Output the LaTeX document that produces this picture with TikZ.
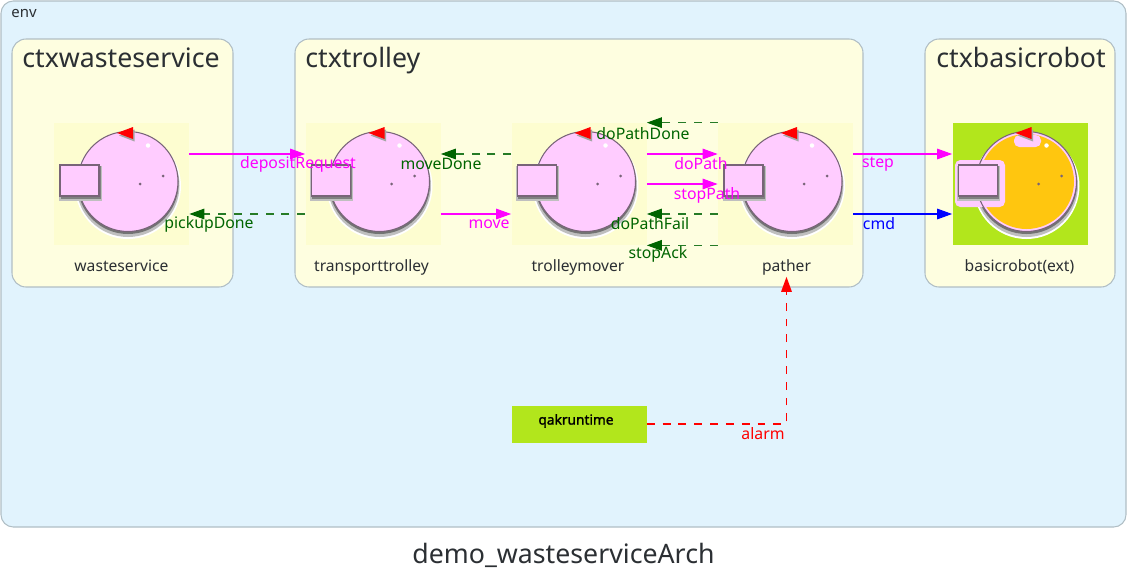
\documentclass[tikz,border=0pt]{standalone}
\usepackage{fontspec}
\setmainfont{Noto Sans}
\newfontfamily\qakfont[FakeBold=1.6]{Noto Sans}
\usetikzlibrary{arrows.meta,calc,positioning}
\definecolor{envblue}{RGB}{225,243,253}
\definecolor{ctxyellow}{RGB}{254,254,224}
\definecolor{ctxborder}{RGB}{176,190,197}
\definecolor{actpink}{RGB}{255,204,255}
\definecolor{actlime}{RGB}{178,230,28}
\definecolor{actorange}{RGB}{255,198,15}
\definecolor{actedge}{RGB}{120,100,120}
\definecolor{actbox}{RGB}{253,253,208}
\definecolor{msggreen}{RGB}{0,100,0}
\definecolor{msgmagenta}{RGB}{255,0,255}
\definecolor{inktext}{RGB}{43,47,51}

\begin{document}
\begin{tikzpicture}[
      envbox/.style={draw=ctxborder, fill=envblue, rounded corners=7pt, line width=0.6pt, minimum width=22.5cm, minimum height=10.52cm},
      ctxbox/.style={draw=ctxborder, fill=ctxyellow, rounded corners=8pt, line width=0.6pt, minimum height=4.96cm},
      ctxtitle/.style={text=inktext, font=\fontsize{15.2}{16}\selectfont, inner sep=0pt},
      actorbox/.style={minimum width=2.7cm, minimum height=2.44cm, inner sep=0pt},
      actorname/.style={text=inktext, font=\fontsize{8.9}{11}\selectfont, inner sep=1pt},
      msglabel/.style={font=\fontsize{9}{11}\selectfont, inner sep=0pt},
      request/.style={-{Triangle[length=8.5pt,width=6pt]}, msgmagenta, line width=0.6pt},
      reply/.style={-{Triangle[length=8.5pt,width=6pt,color=msggreen]}, msggreen!85!white, line width=0.6pt, dash pattern=on 4.5pt off 4.5pt},
      dispatch/.style={-{Triangle[length=8.5pt,width=6pt]}, blue, line width=0.6pt},
      alarmline/.style={-{Triangle[length=8.5pt,width=6pt]}, red, line width=0.7pt, dash pattern=on 4.5pt off 4.5pt},
      actorhalo/.style={},
      actor/.pic={
        % shadow and body
        \fill[white] (0.13,-0.04) circle (1.06);
        \fill[black!25] (0.13,-0.03) circle (1.03);
        \fill[black!55] (0.13,0.01) circle (1.01);
        \fill[actpink] (0.13,0.05) circle (1.0);
        \fill[#1] (0.13,0.05) circle (0.95);
        \path[actorhalo, rounded corners=3pt] (-1.3,-0.46) rectangle (-0.3,0.48);
        \path[actorhalo, rounded corners=3pt] (-0.12,0.74) rectangle (0.42,0.98);
        \draw[actedge, line width=0.6pt] (0.13,0.05) circle (1.0);
        \fill[white] (0.53,0.77) circle (0.045);
        \fill[actedge] (0.37,0) circle (0.03);
        \fill[actedge] (0.83,0.16) circle (0.03);
        % port
        \fill[black!25] (-1.26,-0.33) rectangle (-0.4,0.36);
        \fill[black!50] (-1.22,-0.29) rectangle (-0.42,0.36);
        \draw[actedge, fill=actpink, line width=0.8pt] (-1.23,-0.24) rectangle (-0.45,0.38);
        % head
        \fill[black!35] (-0.05,0.97) -- (0.26,1.09) -- (0.26,0.85) -- cycle;
        \fill[red] (-0.09,1.02) -- (0.23,1.14) -- (0.23,0.90) -- cycle;
      }
    ]
      \useasboundingbox (0,0) rectangle (22.54,11.42);

      % Contexts
      \node[envbox] (env) at (11.27, 6.14) {};
      \node[font=\fontsize{8.5}{10}\selectfont, text=inktext, inner sep=0pt, anchor=base west] (envtitle) at (0.22, 11.06) {env};
      \node[ctxbox, minimum width=4.42cm] (ctxwasteservice) at (2.45, 8.16) {};
      \node[ctxbox, minimum width=11.36cm] (ctxtrolley) at (11.58, 8.16) {};
      \node[ctxbox, minimum width=3.8cm] (ctxbasicrobot) at (20.4, 8.16) {};
      \node[ctxtitle, anchor=base west] (wastetitle) at (0.44, 10.06) {ctxwasteservice};
      \node[ctxtitle, anchor=base west] (trolleytitle) at (6.1, 10.06) {ctxtrolley};
      \node[ctxtitle, anchor=base west] (robottitle) at (18.72, 10.06) {ctxbasicrobot};

      % Actors
      \node[actorbox, fill=actbox] (wasteservice) at (2.43, 7.74) {};
      \node[actorbox, fill=actbox] (transporttrolley) at (7.46, 7.74) {};
      \node[actorbox, fill=actbox] (trolleymover) at (11.58, 7.74) {};
      \node[actorbox, fill=actbox] (pather) at (15.71, 7.74) {};
      \node[actorbox, fill=actlime] (basicrobot) at (20.4, 7.74) {};
      \pic at (wasteservice) {actor=actpink};
      \pic at (transporttrolley) {actor=actpink};
      \pic at (trolleymover) {actor=actpink};
      \pic at (pather) {actor=actpink};
      \pic[actorhalo/.style={fill=actpink}] at (basicrobot) {actor=actorange};

      \node[actorname, anchor=base] (wastename) at (2.43, 6.0) {wasteservice};
      \node[actorname, anchor=base] (transportname) at (7.43, 6.0) {transporttrolley};
      \node[actorname, anchor=base] (movername) at (11.56, 6.0) {trolleymover};
      \node[actorname, anchor=base] (pathername) at (15.73, 6.0) {pather};
      \node[actorname, anchor=base] (robotname) at (20.39, 6.0) {basicrobot(ext)};

      \node[minimum width=2.7cm, minimum height=0.74cm, fill=actlime, inner sep=0pt] (qakruntime) at (11.58, 2.94) {};
      \node[font=\qakfont\fontsize{7.8}{9}\selectfont, inner sep=0pt] (qakname) at (11.52, 3.0) {qakruntime};

      % Messages
      \draw[request] ([yshift=0.6cm]wasteservice.east) -- ([yshift=0.6cm]transporttrolley.west);
      \draw[reply] ([yshift=-0.6cm]transporttrolley.west) -- ([yshift=-0.6cm]wasteservice.east);
      \draw[reply] ([yshift=0.6cm]trolleymover.west) -- ([yshift=0.6cm]transporttrolley.east);
      \draw[request] ([yshift=-0.6cm]transporttrolley.east) -- ([yshift=-0.6cm]trolleymover.west);
      \draw[request] ([yshift=0.6cm]trolleymover.east) -- ([yshift=0.6cm]pather.west);
      \draw[request] (trolleymover.east) -- (pather.west);
      \draw[reply] (pather.north west) -- (trolleymover.north east);
      \draw[reply] ([yshift=-0.6cm]pather.west) -- ([yshift=-0.6cm]trolleymover.east);
      \draw[reply] (pather.south west) -- (trolleymover.south east);
      \draw[request] ([yshift=0.6cm]pather.east) -- ([yshift=0.6cm]basicrobot.west);
      \draw[dispatch] ([yshift=-0.6cm]pather.east) -- ([yshift=-0.6cm]basicrobot.west);
      \draw[alarmline] (qakruntime.east) -| (pathername.south);

      % Labels
      \node[msglabel, text=msgmagenta] (depositlabel) at (5.96, 8.14) {depositRequest};
      \node[msglabel, text=msggreen] (pickuplabel) at (4.18, 6.94) {pickupDone};
      \node[msglabel, text=msggreen] (movedonelabel) at (8.82, 8.14) {moveDone};
      \node[msglabel, text=msgmagenta] (movelabel) at (9.78, 6.94) {move};
      \node[msglabel, text=msgmagenta] (dopathlabel) at (14.02, 8.14) {doPath};
      \node[msglabel, text=msgmagenta] (stoppathlabel) at (14.14, 7.52) {stopPath};
      \node[msglabel, text=msggreen] (faillabel) at (13.0, 6.94) {doPathFail};
      \node[msglabel, text=msggreen] (donelabel) at (12.86, 8.74) {doPathDone};
      \node[msglabel, text=msggreen] (acklabel) at (13.16, 6.34) {stopAck};
      \node[msglabel, text=msgmagenta] (steplabel) at (17.56, 8.14) {step};
      \node[msglabel, text=blue] (cmdlabel) at (17.58, 6.94) {cmd};
      \node[msglabel, text=red] (alarmlabel) at (15.26, 2.74) {alarm};

      \node[text=inktext, font=\fontsize{15.2}{17}\selectfont, inner sep=0pt] (diagramtitle) at (11.27, 0.31) {demo\_wasteserviceArch};
    \end{tikzpicture}
\end{document}
